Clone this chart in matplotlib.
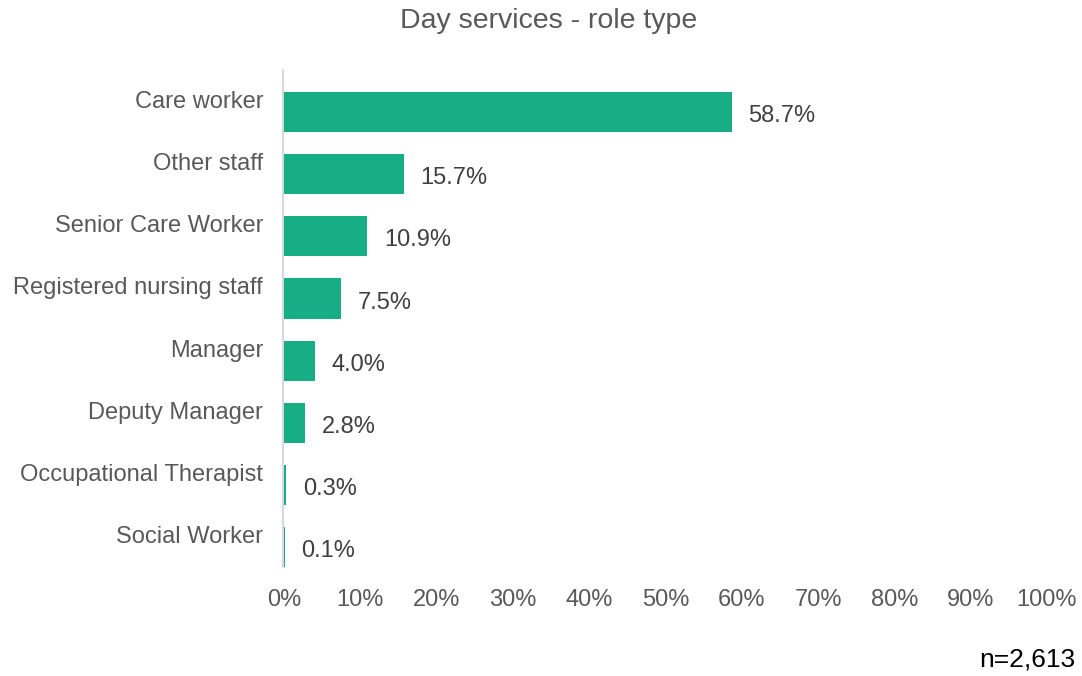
import matplotlib.pyplot as plt
import matplotlib.transforms as mtransforms
from matplotlib.ticker import PercentFormatter

# Role type breakdown (% of staff)
roles = ["Care worker", "Other staff", "Senior Care Worker", "Registered nursing staff",
         "Manager", "Deputy Manager", "Occupational Therapist", "Social Worker"]
shares = [58.7, 15.7, 10.9, 7.5, 4.0, 2.8, 0.3, 0.1]
x_ticks = [0, 10, 20, 30, 40, 50, 60, 70, 80, 90, 100]

plt.rcParams['font.family'] = ['Liberation Sans', 'DejaVu Sans']

fig = plt.figure(figsize=(10.82, 6.76), dpi=100)
ax = fig.add_axes([284 / 1082, 1 - 567 / 676, (1047 - 284) / 1082, (567 - 70) / 676])

pos = list(range(len(roles)))
ax.barh(pos, shares, height=0.645, color="#17AE85", zorder=3)

for y, v in zip(pos, shares):
    ax.annotate(f"{v:.1f}%", (v, y), xytext=(12, -3), textcoords="offset points",
                va="center", ha="left", fontsize=17, color="#404040")

for side in ["top", "right", "bottom"]:
    ax.spines[side].set_visible(False)
ax.spines["left"].set_color("#D9D9D9")
ax.spines["left"].set_linewidth(1.5)
ax.spines["left"].set_position(("outward", 1))

ax.set_xlim(0, 100)
ax.set_ylim(7.32, -0.676)
ax.set_xticks(x_ticks)
ax.xaxis.set_major_formatter(PercentFormatter(decimals=0))
ax.set_yticks(pos)
ax.set_yticklabels(roles)
ax.tick_params(axis="both", length=0, labelsize=17, labelcolor="#595959")
ax.tick_params(axis="x", pad=16)
ax.tick_params(axis="y", pad=14)

# lift category labels slightly above the bars
shift = mtransforms.ScaledTranslation(0, 9 / 72, fig.dpi_scale_trans)
for lbl in ax.get_yticklabels():
    lbl.set_transform(lbl.get_transform() + shift)

fig.text(549 / 1082, 1 - 21 / 676, "Day services - role type", ha="center", va="center",
         fontsize=20.5, color="#595959")
fig.text(1075 / 1082, 1 - 660 / 676, "n=2,613", ha="right", va="center",
         fontsize=19, color="#000000")

fig.savefig("out.png", dpi=100)
